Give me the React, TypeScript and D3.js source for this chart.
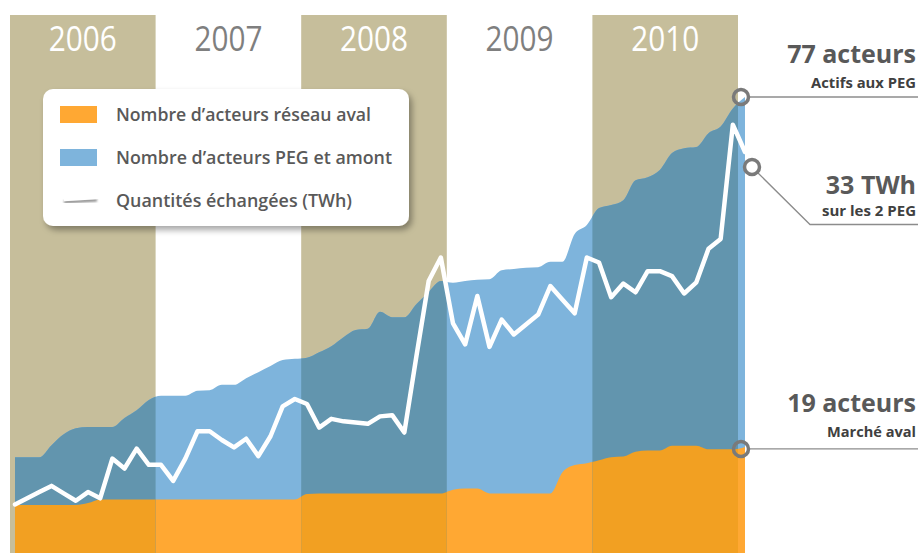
import React from 'react';
import * as d3 from 'd3';

const years = ['2006', '2007', '2008', '2009', '2010'];

// Nombre d'acteurs PEG et amont (monthly, Jan 2006 -> Jan 2011)
const pegActors = [
  17.3, 17.3, 17.3, 19.3, 21.1, 22.1, 22.3, 22.3, 22.3, 23.8,
  25.1, 26.8, 27.5, 27.5, 27.5, 28.3, 28.4, 29.3, 29.3, 30.4,
  31.4, 32.4, 33.4, 33.6, 33.8, 34.7, 35.7, 37.2, 38.4, 38.6,
  41.4, 40.5, 40.5, 42.7, 44.7, 46.5, 46.2, 46.5, 46.7, 46.8,
  48.3, 48.5, 48.7, 48.8, 49.7, 49.7, 54.3, 55.8, 58.6, 59.1,
  59.9, 63.2, 63.7, 64.9, 67.7, 68.5, 68.7, 71.0, 72.1, 75.1,
  77.0,
];

// Nombre d'acteurs réseau aval
const avalActors = [
  9.4, 9.4, 9.4, 9.4, 9.4, 9.4, 9.7, 10.3, 10.3, 10.3,
  10.3, 10.3, 10.3, 10.3, 10.3, 10.3, 10.3, 10.3, 10.3, 10.3,
  10.3, 10.3, 10.3, 10.3, 11.2, 11.3, 11.3, 11.3, 11.3, 11.3,
  11.3, 11.3, 11.3, 11.3, 11.3, 11.3, 11.9, 12.1, 12.1, 11.3,
  11.3, 11.3, 11.3, 11.3, 11.3, 14.8, 16.0, 16.3, 16.8, 17.3,
  17.4, 18.2, 18.4, 18.4, 19.2, 19.2, 19.2, 18.6, 18.6, 18.6,
  19.0,
];

// Quantités échangées (TWh)
const volumesTWh = [
  4.6, 5.1, 5.6, 6.1, 5.5, 4.9, 5.6, 5.1, 8.3, 7.5,
  9.1, 7.8, 7.8, 6.5, 8.3, 10.5, 10.5, 9.8, 9.2, 9.9,
  8.5, 10.1, 12.5, 13.1, 12.7, 10.8, 11.5, 11.3, 11.2, 11.1,
  11.7, 11.8, 10.4, 16.6, 22.6, 24.5, 19.2, 17.5, 21.4, 17.3,
  19.5, 18.3, 19.1, 19.9, 22.2, 21.1, 20.0, 24.5, 24.1, 21.3,
  22.4, 21.7, 23.4, 23.4, 23.0, 21.6, 22.5, 25.2, 26.0, 35.2,
  33.0,
];

const legendItems = [
  { label: 'Nombre d\u2019acteurs réseau aval', kind: 'aval', width: 255 },
  { label: 'Nombre d\u2019acteurs PEG et amont', kind: 'peg', width: 276 },
  { label: 'Quantités échangées (TWh)', kind: 'line', width: 236 },
];

const W = 918;
const H = 553;
const TAN = '#C6BE9B';
const BLUE_L = '#7EB4DC';
const BLUE_D = '#6295AE';
const ORANGE_L = '#FFA833';
const ORANGE_D = '#F2A022';
const FONT = '"Open Sans", "DejaVu Sans", sans-serif';

export default function App() {
  const n = pegActors.length;
  const x = d3.scaleLinear().domain([0, n - 1]).range([15, 745]);
  const yA = d3.scaleLinear().domain([0, 77]).range([561.6, 97]);
  const yT = d3.scaleLinear().domain([0, 33]).range([561.6, 152]);
  const yearX = d3.scaleLinear().domain([0, years.length]).range([10, 738]);

  const areaGen = d3
    .area<number>()
    .x((_, i) => x(i))
    .y0(yA(0))
    .y1((d) => yA(d))
    .curve(d3.curveMonotoneX);
  const line = d3
    .line<number>()
    .x((_, i) => x(i))
    .y((d) => yT(d));

  const tanIdx = years.map((_, i) => i).filter((i) => i % 2 === 0);
  const last = n - 1;

  const annotations = [
    {
      big: `${Math.round(pegActors[last])} acteurs`,
      small: 'Actifs aux PEG',
      smallW: 105,
      cx: x(last) - 4,
      cy: yA(pegActors[last]),
      bigY: 63,
      smallY: 88,
      path: (cx: number, cy: number) => `M${cx + 8},${cy}H${W}`,
    },
    {
      big: `${Math.round(volumesTWh[last])} TWh`,
      small: 'sur les 2 PEG',
      smallW: 94,
      cx: x(last) + 7,
      cy: yT(volumesTWh[last]) + 15,
      bigY: 194,
      smallY: 216,
      path: (cx: number, cy: number) => `M${cx + 6},${cy + 6}L${810},${224.5}H${W}`,
    },
    {
      big: `${Math.round(avalActors[last])} acteurs`,
      small: 'Marché aval',
      smallW: 89,
      cx: x(last) - 4,
      cy: yA(avalActors[last]) + 2,
      bigY: 412,
      smallY: 437,
      path: (cx: number, cy: number) => `M${cx + 8},${cy}H${W}`,
    },
  ];

  return (
    <svg
      width={W}
      height={H}
      viewBox={`0 0 ${W} ${H}`}
      style={{ position: 'absolute', left: 0, top: 0, background: '#fff' }}
      fontFamily={FONT}
    >
      <defs>
        <clipPath id="tanClip">
          {tanIdx.map((i) => (
            <rect key={i} x={yearX(i)} y={0} width={yearX(i + 1) - yearX(i)} height={H} />
          ))}
        </clipPath>
        <filter id="shadow" x="-10%" y="-10%" width="125%" height="135%">
          <feDropShadow dx="3" dy="4" stdDeviation="3" floodColor="#000" floodOpacity="0.35" />
        </filter>
        <filter id="blur1">
          <feGaussianBlur stdDeviation="1" />
        </filter>
      </defs>

      {tanIdx.map((i) => (
        <rect key={i} x={yearX(i)} y={15} width={yearX(i + 1) - yearX(i)} height={H - 15} fill={TAN} />
      ))}

      <path d={areaGen(pegActors) || ''} fill={BLUE_L} />
      <path d={areaGen(avalActors) || ''} fill={ORANGE_L} />
      <g clipPath="url(#tanClip)">
        <path d={areaGen(pegActors) || ''} fill={BLUE_D} />
        <path d={areaGen(avalActors) || ''} fill={ORANGE_D} />
      </g>

      {years.map((yr, i) => (
        <text
          key={yr}
          x={(yearX(i) + yearX(i + 1)) / 2}
          y={51}
          textAnchor="middle"
          fontSize={34}
          textLength={68}
          lengthAdjust="spacingAndGlyphs"
          fill={i % 2 === 0 ? '#FFFFFF' : '#7F7F7F'}
        >
          {yr}
        </text>
      ))}

      <path
        d={line(volumesTWh) || ''}
        fill="none"
        stroke="#FFFFFF"
        strokeWidth={4.5}
        strokeLinejoin="round"
        strokeLinecap="round"
      />

      {/* legend */}
      <g>
        <rect x={43} y={89} width={366} height={137} rx={10} fill="#fff" filter="url(#shadow)" />
        {legendItems.map((it, i) => {
          const cy = 114 + i * 43;
          return (
            <g key={it.label}>
              {it.kind === 'aval' && <rect x={60} y={cy - 8} width={37} height={17} fill={ORANGE_L} />}
              {it.kind === 'peg' && <rect x={60} y={cy - 8} width={37} height={17} fill={BLUE_L} />}
              {it.kind === 'line' && (
                <g>
                  <line x1={64} y1={cy + 2} x2={97} y2={cy} stroke="#8a8a8a" strokeWidth={3} filter="url(#blur1)" />
                  <line x1={64} y1={cy} x2={97} y2={cy - 2} stroke="#fff" strokeWidth={2.5} />
                </g>
              )}
              <text
                x={116}
                y={cy + 7}
                fontSize={18}
                fontWeight={600}
                fill="#595959"
                textLength={it.width}
                lengthAdjust="spacingAndGlyphs"
              >
                {it.label}
              </text>
            </g>
          );
        })}
      </g>

      {/* annotations */}
      {annotations.map((a) => (
        <g key={a.big}>
          <path d={a.path(a.cx, a.cy)} fill="none" stroke="#8C8C8C" strokeWidth={1.3} />
          <circle cx={a.cx} cy={a.cy} r={7.5} fill="none" stroke="#7A7A7A" strokeWidth={3.5} />
          <text x={916} y={a.bigY} textAnchor="end" fontSize={25} fontWeight={700} fill="#595959">
            {a.big}
          </text>
          <text
            x={916}
            y={a.smallY}
            textAnchor="end"
            fontSize={13.5}
            fontWeight={700}
            fill="#404040"
            textLength={a.smallW}
            lengthAdjust="spacingAndGlyphs"
          >
            {a.small}
          </text>
        </g>
      ))}
    </svg>
  );
}
